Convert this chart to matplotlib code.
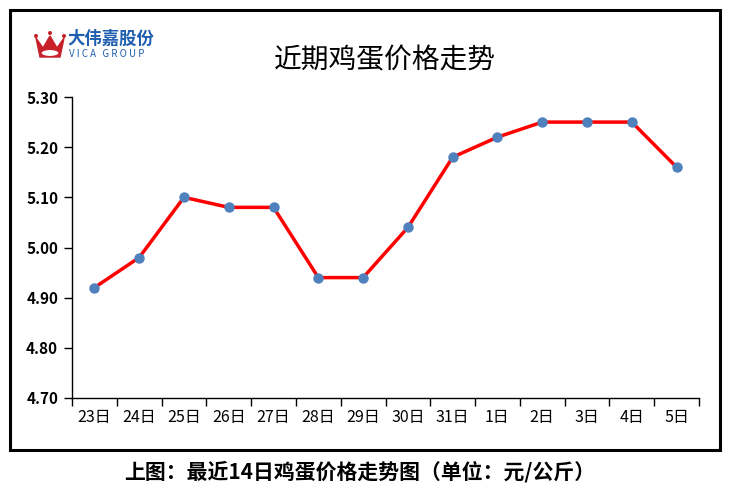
import matplotlib
matplotlib.use("Agg")
import matplotlib.pyplot as plt
from matplotlib.patches import Rectangle, Polygon, Ellipse

plt.rcParams['font.family'] = ['Noto Sans CJK SC', 'DejaVu Sans']

days = ["23日", "24日", "25日", "26日", "27日", "28日", "29日", "30日", "31日",
        "1日", "2日", "3日", "4日", "5日"]
prices = [4.92, 4.98, 5.10, 5.08, 5.08, 4.94, 4.94, 5.04, 5.18, 5.22, 5.25, 5.25, 5.25, 5.16]
yticks = [4.70, 4.80, 4.90, 5.00, 5.10, 5.20, 5.30]

fig = plt.figure(figsize=(7.3, 4.91), dpi=100)
W, H = 730, 491

def fx(x):
    return x / W

def fy(y):
    return 1 - y / H

# outer frame
fig.patches.append(Rectangle((fx(10), fy(450)), fx(710), 440 / H, transform=fig.transFigure,
                             fill=False, edgecolor='black', linewidth=2.2))

ax = fig.add_axes([fx(72), fy(398), fx(627), 301 / H])
x = list(range(len(days)))
ax.plot(x, prices, color='#FF0000', linewidth=2.5, marker='o', markersize=6.5,
        markerfacecolor='#4F81BD', markeredgecolor='#4F81BD', zorder=3)
ax.set_xlim(-0.5, len(days) - 0.5)
ax.set_ylim(4.70, 5.30)
ax.set_yticks(yticks)
ax.set_yticklabels([f"{v:.2f}" for v in yticks], fontsize=11, fontweight='bold')
ax.set_xticks([i - 0.5 for i in range(len(days) + 1)])
ax.set_xticklabels([])
ax.set_xticks(x, minor=True)
ax.set_xticklabels(days, minor=True, fontsize=11.5)
ax.tick_params(axis='x', which='minor', length=0, pad=8)
ax.tick_params(axis='x', which='major', length=6, width=1, direction='out')
ax.tick_params(axis='y', length=6, width=1, direction='out', pad=4)
for s in ['top', 'right']:
    ax.spines[s].set_visible(False)
for s in ['left', 'bottom']:
    ax.spines[s].set_linewidth(1)

# title
fig.text(fx(385), fy(60), "近期鸡蛋价格走势", ha='center', va='center', fontsize=20)

# caption
fig.text(fx(360), fy(472), "上图：最近14日鸡蛋价格走势图（单位：元/公斤）", ha='center', va='center',
         fontsize=15, fontweight='bold')

# logo
crown = Polygon([(fx(36), fy(38)), (fx(43), fy(48)), (fx(50), fy(36)), (fx(57), fy(48)),
                 (fx(64), fy(38)), (fx(60), fy(57)), (fx(40), fy(57))],
                closed=True, transform=fig.transFigure, facecolor='#C8202A', edgecolor='#C8202A')
fig.patches.append(crown)
for cx, cy in [(36, 36), (50, 33), (64, 36)]:
    fig.patches.append(Ellipse((fx(cx), fy(cy)), 4 / W, 4 / H, transform=fig.transFigure,
                               facecolor='#C8202A', edgecolor='none'))
fig.patches.append(Ellipse((fx(50), fy(53)), 18 / W, 7 / H, transform=fig.transFigure,
                           facecolor='white', edgecolor='#C8202A', linewidth=0.8))
fig.text(fx(67), fy(39), "大伟嘉股份", ha='left', va='center', fontsize=12.5,
         color='#1F5FAF', fontweight='bold')
fig.text(fx(69), fy(54), "V I C A   G R O U P", ha='left', va='center', fontsize=7,
         color='#1F5FAF')

fig.savefig("out.png", dpi=100)
